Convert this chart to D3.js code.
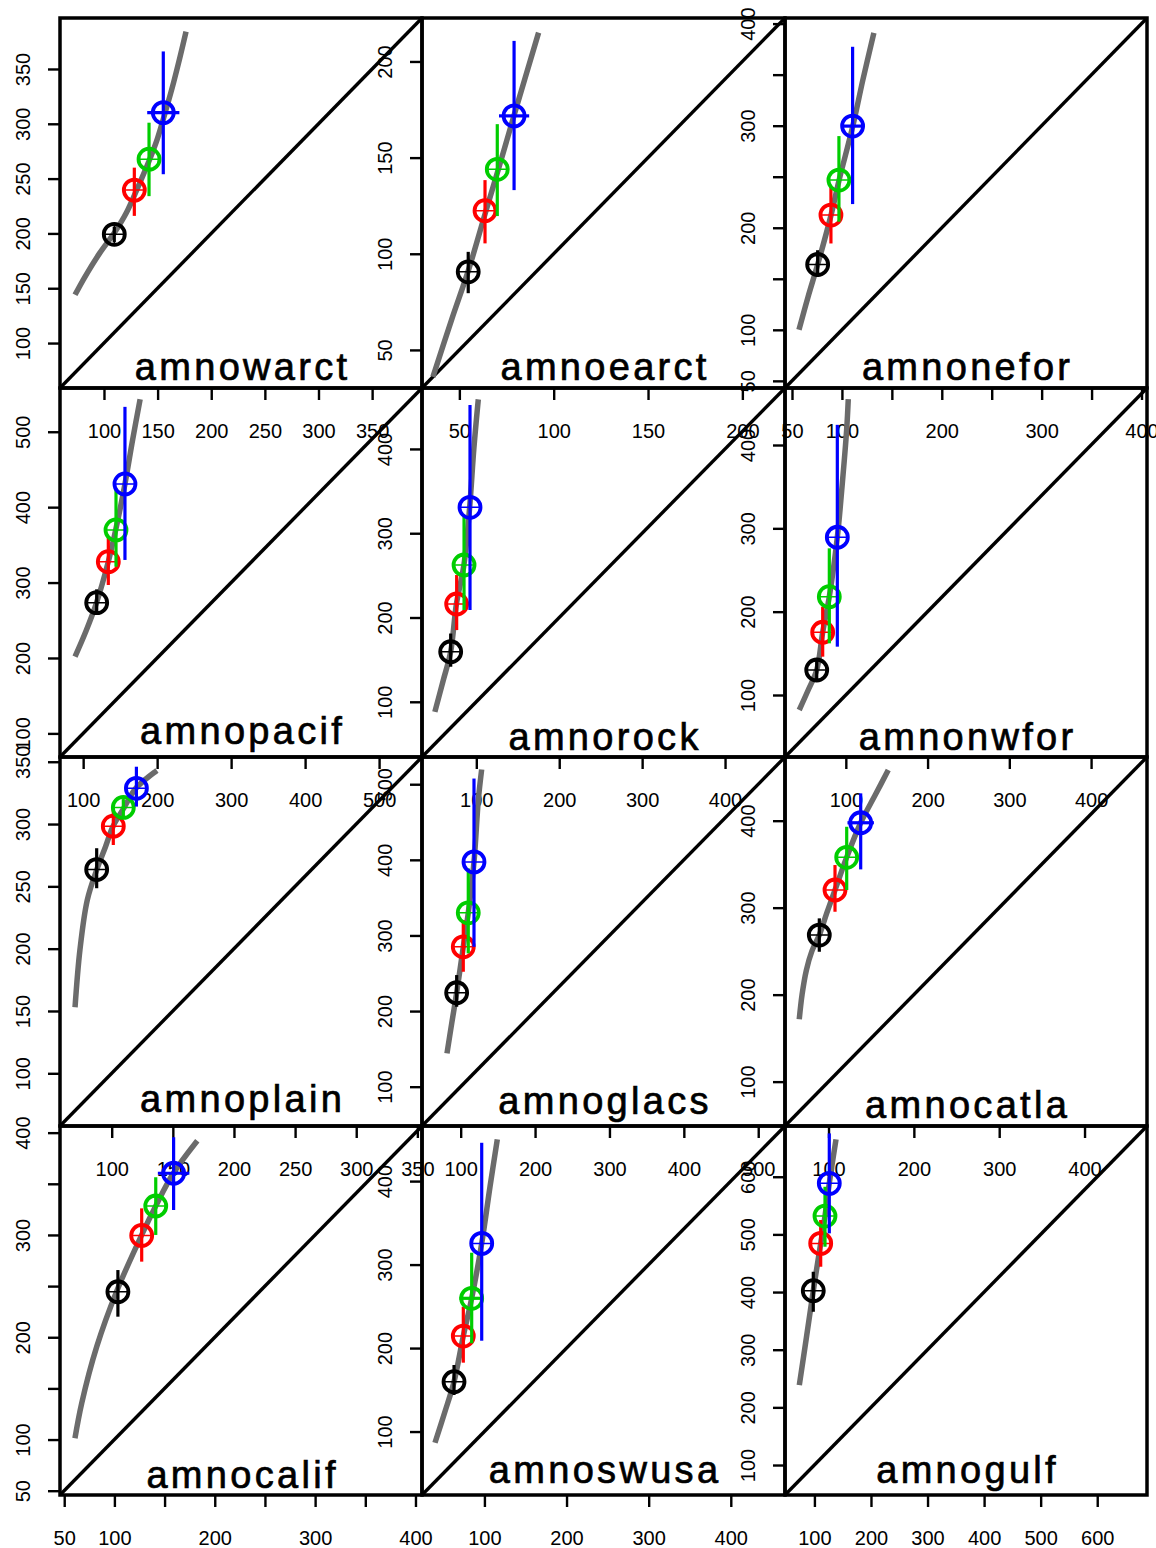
<!DOCTYPE html>
<html>
<head>
<meta charset="utf-8">
<script src="https://cdn.jsdelivr.net/npm/d3@7"></script>
<style>
  body { margin: 0; background: #ffffff; }
  text { font-family: "Liberation Sans", Arial, Helvetica, sans-serif; }
</style>
</head>
<body>
<svg id="chart" width="1156" height="1548"></svg>
<script>
// ---- data -------------------------------------------------------------
const regions = ["amnowarct", "amnoearct", "amnonefor",
                 "amnopacif", "amnorock", "amnonwfor",
                 "amnoplain", "amnoglacs", "amnocatla",
                 "amnocalif", "amnoswusa", "amnogulf"];

// shared x / y range of each panel (both axes use the same range)
const axisRange = [[59, 396.5], [30.2, 222.6], [43, 405.5],
                   [68.7, 558], [34.5, 472.3], [25.6, 468.4],
                   [57.7, 353.8], [48, 536], [49, 473.2],
                   [45.8, 406.5], [24, 466], [48, 688]];

const axisTicks = [[100, 150, 200, 250, 300, 350], [50, 100, 150, 200], [50, 100, 150, 200, 250, 300, 350, 400],
                   [100, 200, 300, 400, 500], [100, 200, 300, 400], [100, 200, 300, 400],
                   [100, 150, 200, 250, 300, 350], [100, 200, 300, 400, 500], [100, 200, 300, 400],
                   [50, 100, 150, 200, 250, 300, 350, 400], [100, 200, 300, 400], [100, 200, 300, 400, 500, 600]];

const tickLabels = [[100, 150, 200, 250, 300, 350], [50, 100, 150, 200], [50, 100, 200, 300, 400],
                    [100, 200, 300, 400, 500], [100, 200, 300, 400], [100, 200, 300, 400],
                    [100, 150, 200, 250, 300, 350], [100, 200, 300, 400, 500], [100, 200, 300, 400],
                    [50, 100, 200, 300, 400], [100, 200, 300, 400], [100, 200, 300, 400, 500, 600]];

// fitted relationship (grey curve)
const curveX = [
  [73, 82, 96, 110, 121, 132, 142, 150, 157, 165, 176.5],
  [36, 46, 55, 64, 71, 79, 92],
  [57, 66, 76, 89, 97, 111, 121, 132],
  [89, 104, 118, 134, 144, 156.5, 167, 177],
  [50, 60, 69, 76, 85, 92, 97, 102.4],
  [43, 54, 64.4, 71.7, 79.8, 89.6, 95, 101, 103],
  [70, 74, 80, 88, 95, 101, 110, 120, 137],
  [81.6, 88, 94.6, 103.5, 110.2, 117.9, 123.7, 128.2],
  [65.7, 69, 74, 80.5, 89.2, 98, 107.6, 121.3, 137.7, 155, 170],
  [60.7, 67.4, 82.4, 102.3, 127.2, 141.2, 158.7, 182.6],
  [39.8, 52, 63, 74.3, 84.5, 96.7, 106.8, 115.7],
  [73.3, 86, 98, 111.1, 118.7, 126.3, 138.2]
];
const curveY = [
  [144, 160, 182, 201, 219, 243, 266, 287, 310, 338, 384],
  [36, 66, 92, 122, 145, 172, 215],
  [100, 132, 165, 212, 246, 300, 345, 391],
  [201.7, 236, 273, 327.7, 369.8, 430.8, 490, 543],
  [88, 125, 159, 216, 262, 331, 400, 458.8],
  [82, 106, 130, 175.3, 218, 289.3, 346, 418, 455],
  [153, 199, 239, 264, 282, 298, 313, 329, 343],
  [144.1, 184, 224.2, 285, 329.9, 397.3, 478.9, 519.5],
  [171.6, 200, 228, 250, 268.5, 294, 320.3, 357.9, 397.6, 430, 458.2],
  [101.2, 135.4, 190.8, 245, 300, 328.3, 360.3, 392.1],
  [86.6, 124, 159.7, 214.4, 259.6, 325.4, 393.2, 450],
  [238.7, 322, 402.3, 484.4, 531.8, 588.5, 664.8]
];

// four estimates per region: [black, red, green, blue]
const seriesColors = ["#000000", "#ff0000", "#00cd00", "#0000ff"];
const pointX = [
  [109.6, 128.3, 142, 155.3],
  [54.7, 63.6, 70.1, 79],
  [75.7, 89, 97, 110.7],
  [118.3, 134, 144.4, 156.5],
  [69.1, 76.3, 85.2, 92.4],
  [64.4, 71.7, 79.8, 89.6],
  [87.7, 101.3, 109.5, 120.2],
  [94.6, 103.5, 110.2, 117.9],
  [89.2, 107.6, 121.3, 137.7],
  [103.5, 127.2, 141.2, 159],
  [63, 74.3, 84.5, 96.7],
  [98, 111.1, 118.7, 126.3]
];
const pointY = [
  [199.2, 239.5, 267.7, 310.2],
  [90.6, 122.4, 143.9, 171.7],
  [164, 212.4, 246.7, 299.6],
  [273.3, 327.7, 369.8, 430.8],
  [159.4, 216, 262.3, 330.7],
  [130, 175.3, 218, 289.3],
  [263.5, 298.3, 313.3, 328.7],
  [224.2, 285, 329.9, 397.3],
  [268.5, 320.3, 357.9, 397.6],
  [244.5, 299.5, 328.3, 360.3],
  [159.7, 214.4, 259.6, 325.4],
  [402.3, 484.4, 531.8, 588.5]
];
const errLow = [
  [192, 216, 234, 254],
  [79.5, 105.4, 119.6, 133.1],
  [152, 184.6, 205.9, 223.2],
  [258, 296.8, 321, 330],
  [141.6, 185.1, 208.9, 208.9],
  [118, 146, 162, 158],
  [248.5, 283.2, 306, 314],
  [205.7, 252, 276.3, 285],
  [249.3, 295.3, 320.3, 344],
  [220.1, 273.9, 300, 324.4],
  [143.8, 182.5, 205.7, 208.8],
  [365.8, 443.9, 478.6, 501.8]
];
const errHigh = [
  [206, 260, 301, 366],
  [101, 138.3, 167.4, 210.7],
  [178, 240.2, 289.8, 377.3],
  [291, 360, 423, 533],
  [181, 250.4, 321.6, 452.1],
  [142, 206, 276, 424.2],
  [280.6, 312.7, 320, 346],
  [247.6, 320.3, 388.6, 507.5],
  [287.7, 349, 393, 431.4],
  [265.7, 326, 356.4, 395.5],
  [179.7, 249.5, 314.2, 445.9],
  [435.2, 524.9, 582.6, 675.2]
];
// half-width of the horizontal error bar (0 = hidden inside the symbol)
const errXHalf = [
  [0, 0, 0, 15],
  [0, 0, 0, 8],
  [0, 0, 0, 10],
  [0, 0, 0, 0],
  [0, 0, 0, 0],
  [0, 0, 0, 0],
  [0, 0, 0, 0],
  [0, 0, 0, 0],
  [0, 0, 0, 15.5],
  [0, 0, 0, 15.7],
  [0, 0, 15, 0],
  [0, 0, 0, 0]
];

// ---- layout -------------------------------------------------------------
const colEdges = [60, 422, 785, 1147];
const rowEdges = [18, 388, 757, 1126, 1495];
const titleLift = [8, 8, 8, 13, 7, 7, 14, 12, 8, 7, 12, 12];
const curveGrey = "#6b6b6b";
const labelFont = '"Liberation Sans", Arial, sans-serif';

const svg = d3.select("#chart");
const defs = svg.append("defs");

regions.forEach((name, i) => {
  const r = Math.floor(i / 3), c = i % 3;
  const x0 = colEdges[c], x1 = colEdges[c + 1];
  const y0 = rowEdges[r], y1 = rowEdges[r + 1];

  const x = d3.scaleLinear().domain(axisRange[i]).range([x0, x1]);
  const y = d3.scaleLinear().domain(axisRange[i]).range([y1, y0]);

  const g = svg.append("g").attr("class", "panel");

  defs.append("clipPath").attr("id", "clip" + i)
    .append("rect").attr("x", x0).attr("y", y0)
    .attr("width", x1 - x0).attr("height", y1 - y0);

  const fmt = d => tickLabels[i].includes(d) ? String(d) : "";

  // bottom axis
  const xa = g.append("g")
    .attr("transform", `translate(0,${y1})`)
    .call(d3.axisBottom(x).tickValues(axisTicks[i]).tickSize(12).tickPadding(24).tickFormat(fmt));
  xa.select(".domain").remove();
  xa.selectAll("line").attr("stroke-width", 2.4);
  xa.selectAll("text").attr("font-size", 20).attr("fill", "#000")
    .attr("font-family", labelFont);

  // left axis, labels turned parallel to the axis
  const ya = g.append("g")
    .attr("transform", `translate(${x0},0)`)
    .call(d3.axisLeft(y).tickValues(axisTicks[i]).tickSize(12).tickFormat(fmt));
  ya.select(".domain").remove();
  ya.selectAll("line").attr("stroke-width", 2.4);
  ya.selectAll("text")
    .attr("x", null).attr("dy", null)
    .attr("text-anchor", "middle")
    .attr("transform", "translate(-30,0) rotate(-90)")
    .attr("font-size", 20).attr("fill", "#000")
    .attr("font-family", labelFont);

  // frame
  g.append("rect")
    .attr("x", x0).attr("y", y0)
    .attr("width", x1 - x0).attr("height", y1 - y0)
    .attr("fill", "none").attr("stroke", "#000").attr("stroke-width", 3.5);

  const inner = g.append("g").attr("clip-path", `url(#clip${i})`);

  // 1:1 line
  const [d0, d1] = axisRange[i];
  inner.append("line")
    .attr("x1", x(d0)).attr("y1", y(d0))
    .attr("x2", x(d1)).attr("y2", y(d1))
    .attr("stroke", "#000").attr("stroke-width", 3.4);

  // grey fitted curve
  const pts = curveX[i].map((v, k) => [v, curveY[i][k]]);
  g.append("path")
    .attr("d", d3.line().x(d => x(d[0])).y(d => y(d[1])).curve(d3.curveCatmullRom)(pts))
    .attr("fill", "none").attr("stroke", curveGrey).attr("stroke-width", 5.5);

  // error bars and symbols
  seriesColors.forEach((col, s) => {
    const px = x(pointX[i][s]), py = y(pointY[i][s]);
    g.append("line")
      .attr("x1", px).attr("x2", px)
      .attr("y1", y(errLow[i][s])).attr("y2", y(errHigh[i][s]))
      .attr("stroke", col).attr("stroke-width", 3.2);
    const hx = errXHalf[i][s];
    if (hx > 0) {
      g.append("line")
        .attr("x1", x(pointX[i][s] - hx)).attr("x2", x(pointX[i][s] + hx))
        .attr("y1", py).attr("y2", py)
        .attr("stroke", col).attr("stroke-width", 3.2);
    }
    const rad = 10.5;
    g.append("circle")
      .attr("cx", px).attr("cy", py).attr("r", rad)
      .attr("fill", "none").attr("stroke", col).attr("stroke-width", 3.8);
    g.append("path")
      .attr("d", `M${px - rad},${py}H${px + rad}M${px},${py - rad}V${py + rad}`)
      .attr("stroke", col).attr("stroke-width", 1.5);
  });

  // region name
  g.append("text")
    .attr("x", (x0 + x1) / 2 + 1.6)
    .attr("y", y1 - titleLift[i])
    .attr("text-anchor", "middle")
    .attr("font-size", 38)
    .attr("letter-spacing", 3.3)
    .attr("fill", "#000")
    .attr("stroke", "#000")
    .attr("stroke-width", 0.7)
    .text(name);
});
</script>
</body>
</html>
